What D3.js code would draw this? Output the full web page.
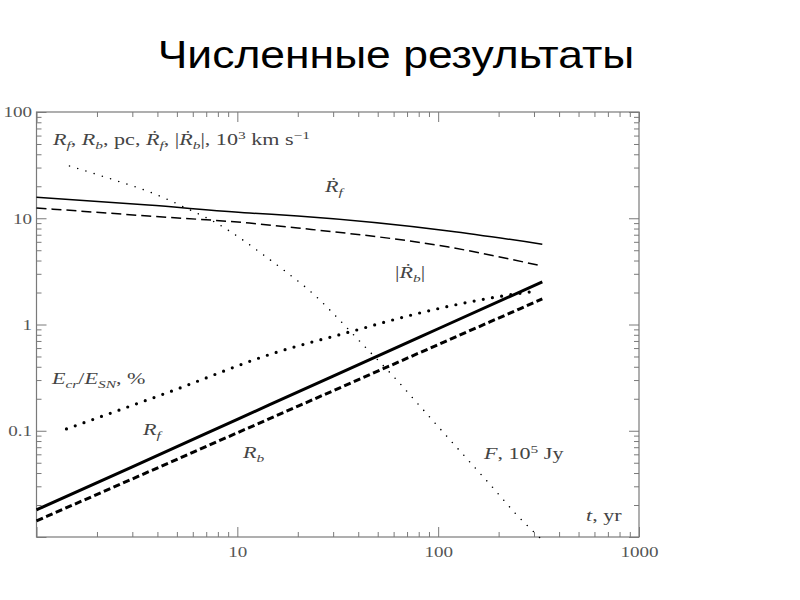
<!DOCTYPE html>
<html><head><meta charset="utf-8">
<script src="https://cdn.jsdelivr.net/npm/d3@7"></script>
<style>
body{margin:0;background:#fff;}
svg{display:block;}
</style></head>
<body>
<script>
// ---- data ----
const title = "Численные результаты";
const xMajorTicks = [1, 10, 100, 1000];
const xTickLabels = ["", "10", "100", "1000"];
const yMajorTicks = [0.01, 0.1, 1, 10, 100];
const yTickLabels = ["", "0.1", "1", "10", "100"];

const tRf = [1, 3, 10, 30, 100, 330];
const Rf  = [0.0180, 0.0458, 0.128, 0.327, 0.912, 2.52];
const tRb = [1, 3, 10, 30, 100, 330];
const Rb  = [0.0142, 0.0352, 0.0957, 0.238, 0.647, 1.74];
const tRfdot = [1, 3.6, 11.5, 20, 113, 330];
const Rfdot  = [15.8, 13.3, 11.2, 10.5, 7.6, 5.7];
const tRbdot = [1, 3.6, 11.5, 20, 113, 330];
const Rbdot  = [12.5, 10.5, 9.0, 8.1, 5.35, 3.55];
const tF = [1.46, 2.44, 3.65, 5.97, 7.86, 10.3, 13.5, 17.5, 24.2, 32.9, 43.8, 59, 78.7, 103.5, 138, 184, 244, 329];
const F  = [31.0, 22.9, 17.7, 11.7, 9.02, 6.52, 4.51, 3.12, 1.90, 1.06, 0.601, 0.335, 0.182, 0.1016, 0.0554, 0.0302, 0.01646, 0.0094];
const tEcr = [1.41, 4.59, 15.3, 36.1, 80.4, 183.6, 311];
const Ecr  = [0.104, 0.232, 0.540, 0.849, 1.28, 1.78, 2.07];

// ---- layout ----
const W = 800, H = 600;
const svg = d3.select("body").append("svg").attr("width", W).attr("height", H);

svg.append("g").attr("transform", "translate(396,68) scale(1.17,1)")
  .append("text").attr("x", 0).attr("y", 0).attr("text-anchor", "middle")
  .style("font-family", "'Liberation Sans', Arial, sans-serif").style("font-size", "38px")
  .attr("fill", "#000").text(title);

const x = d3.scaleLog().domain([1, 1000]).range([36.5, 639]);
const y = d3.scaleLog().domain([0.01, 100]).range([537, 112]);

const axisColor = "#7a7a7a", labColor = "#555";
const serif = "'Liberation Serif', 'DejaVu Serif', serif";
const tickSx = 1.27, mathSx = 1.38;

function minors(lo, hi) {
  const out = [];
  for (let d = lo; d < hi; d *= 10) for (let k = 2; k <= 9; k++) out.push(d * k);
  return out;
}
const xMinor = minors(1, 1000), yMinor = minors(0.01, 100);

function styleAxis(g) {
  g.select(".domain").remove();
  g.selectAll("line").attr("stroke", axisColor).attr("stroke-width", 1);
  g.selectAll("text").attr("fill", labColor).style("font-family", serif).style("font-size", "15px")
    .attr("transform", `scale(${tickSx},1)`);
}
const g = svg.append("g");
// bottom
g.append("g").attr("transform", "translate(0,537)")
  .call(d3.axisBottom(x).tickValues(xMajorTicks).tickSize(-10).tickPadding(9)
    .tickFormat((d, i) => xTickLabels[i])).call(styleAxis);
g.append("g").attr("transform", "translate(0,537)")
  .call(d3.axisBottom(x).tickValues(xMinor).tickSize(-5).tickFormat("")).call(styleAxis);
// top
g.append("g").attr("transform", "translate(0,112)")
  .call(d3.axisTop(x).tickValues(xMajorTicks).tickSize(-10).tickFormat("")).call(styleAxis);
g.append("g").attr("transform", "translate(0,112)")
  .call(d3.axisTop(x).tickValues(xMinor).tickSize(-5).tickFormat("")).call(styleAxis);
// left
g.append("g").attr("transform", "translate(36.5,0)")
  .call(d3.axisLeft(y).tickValues(yMajorTicks).tickSize(-10).tickPadding(3.5)
    .tickFormat((d, i) => yTickLabels[i])).call(styleAxis);
g.append("g").attr("transform", "translate(36.5,0)")
  .call(d3.axisLeft(y).tickValues(yMinor).tickSize(-5).tickFormat("")).call(styleAxis);
// right
g.append("g").attr("transform", "translate(639,0)")
  .call(d3.axisRight(y).tickValues(yMajorTicks).tickSize(-10).tickFormat("")).call(styleAxis);
g.append("g").attr("transform", "translate(639,0)")
  .call(d3.axisRight(y).tickValues(yMinor).tickSize(-5).tickFormat("")).call(styleAxis);
// frame
svg.append("rect").attr("x", 36.5).attr("y", 112).attr("width", 639 - 36.5).attr("height", 537 - 112)
  .attr("fill", "none").attr("stroke", axisColor).attr("stroke-width", 1.2);

// ---- series ----
const line = d3.line().x(d => x(d[0])).y(d => y(d[1])).curve(d3.curveMonotoneX);
function series(ts, vs, w, dash) {
  const p = svg.append("path").datum(ts.map((t, i) => [t, vs[i]]))
    .attr("d", line).attr("fill", "none").attr("stroke", "#000").attr("stroke-width", w);
  if (dash) p.attr("stroke-dasharray", dash);
  if (dash && dash.startsWith("0,")) p.attr("stroke-linecap", "round");
  return p;
}
series(tRfdot, Rfdot, 1.5, null);
series(tRbdot, Rbdot, 1.5, "10,5");
series(tRf, Rf, 3, null);
series(tRb, Rb, 3, "7,3.5");
series(tEcr, Ecr, 3.2, "0,9.3");
series(tF, F, 1.6, "0,8.6");

// ---- math labels ----
function mathText(xp, yp, segs, size) {
  size = size || 16;
  const t = svg.append("g").attr("transform", `translate(${xp},${yp}) scale(${mathSx},1)`)
    .append("text").attr("x", 0).attr("y", 0)
    .style("font-family", serif).style("font-size", size + "px").attr("fill", "#444");
  let shift = 0;
  segs.forEach(s => {
    const [str, kind] = s;
    let target = 0, fs = size, italic = false;
    if (kind === "i") italic = true;
    if (kind === "sub") { target = 4; fs = size * 0.7; italic = true; }
    if (kind === "sup") { target = -6; fs = size * 0.7; }
    t.append("tspan").attr("dy", target - shift).style("font-size", fs + "px")
      .style("font-style", italic ? "italic" : "normal").text(str);
    shift = target;
  });
  return t;
}
mathText(53, 145, [["R","i"],["f","sub"],[", ","r"],["R","i"],["b","sub"],[", pc, ","r"],
  ["Ṙ","i"],["f","sub"],[", |","r"],["Ṙ","i"],["b","sub"],["|, 10","r"],["3","sup"],[" km s","r"],["−1","sup"]]);
mathText(325, 192, [["Ṙ","i"],["f","sub"]]);
mathText(395, 278, [["|","r"],["Ṙ","i"],["b","sub"],["|","r"]]);
mathText(52, 384, [["E","i"],["cr","sub"],["/","r"],["E","i"],["SN","sub"],[", %","r"]]);
mathText(143, 435, [["R","i"],["f","sub"]]);
mathText(243, 458, [["R","i"],["b","sub"]]);
mathText(484, 459, [["F","i"],[", 10","r"],["5","sup"],[" Jy","r"]]);
mathText(586, 521, [["t","i"],[", yr","r"]]);
</script>
</body></html>
